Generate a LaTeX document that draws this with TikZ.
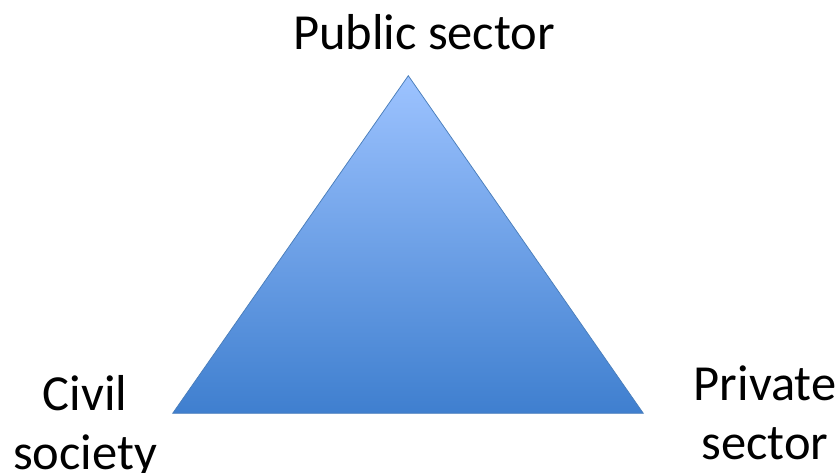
\documentclass[tikz,border=0pt]{standalone}
\usepackage{fontspec}
\setmainfont{Carlito}
\definecolor{topblue}{RGB}{157,195,255}
\definecolor{botblue}{RGB}{63,127,207}
\definecolor{edgeblue}{RGB}{74,126,187}
\begin{document}
\begin{tikzpicture}[x=1pt,y=-1pt,
  lbl/.style={inner sep=0pt,font=\fontsize{50.5}{59}\selectfont,align=center,text=black}]
\useasboundingbox (0,0) rectangle (836,473);
\coordinate (apex) at (408.3,75.7);
\coordinate (bl) at (172.7,413.3);
\coordinate (br) at (643.3,413.3);
\shade[top color=topblue,bottom color=botblue,draw=edgeblue,line width=0.75pt,line join=miter]
  (apex) -- (br) -- (bl) -- cycle;
\node[lbl,anchor=base] (pub) at (424,50) {Public sector};
\node[lbl,anchor=base] (civ) at (85,469) {Civil\\society};
\node[lbl,anchor=base] (priv) at (765,459) {Private\\sector};
\end{tikzpicture}
\end{document}
